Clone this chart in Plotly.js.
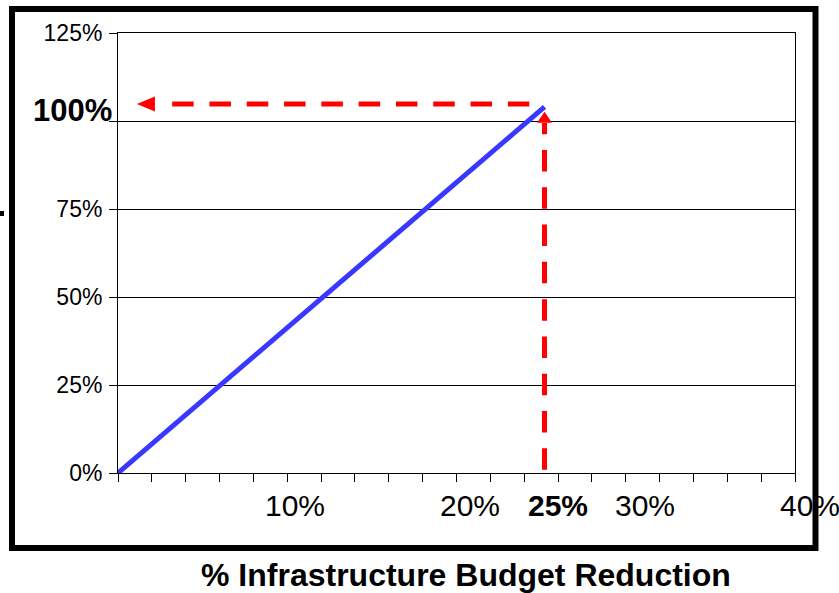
<!DOCTYPE html>
<html>
<head>
<meta charset="utf-8">
<script src="https://cdn.plot.ly/plotly-3.0.1.min.js"></script>
<style>html,body{margin:0;padding:0;background:#fff;}#chart{width:839px;height:593px;}</style>
</head>
<body>
<div id="chart"></div>
<script>
// ---- data ----
const budgetCut = [0, 25.2];          // % infrastructure budget reduction
const impact    = [0, 104];           // % (y)
const readX = 25.2;                   // read-out point x
const readY = 104.8;                  // read-out level y
const hDashX = [3.2, 24.3];           // horizontal dashed read-out line extent
const vDashY = [0.9, 99.4];           // vertical dashed read-out line extent
const leftArrowTipX = 1.12;
const upArrowTipY = 102.6;
const yTickVals = [0, 25, 50, 75, 100, 125];
const yTickText = ['0%', '25%', '50%', '75%', '', '125%'];
const xTickVals = [0,2,4,6,8,10,12,14,16,18,20,22,24,26,28,30,32,34,36,38,40];
const xLabelVals = [10, 20, 25, 30, 40];
const xLabelText = ['10%', '20%', '<b>25%</b>', '30%', '40%'];
const xLabelShift = [8, 13, 17, 19, 15];
const yBoldLabel = '<b>100%</b>';
const xTitle = '<b>% Infrastructure Budget Reduction</b>';

// ---- layout geometry ----
const W = 839, H = 593, L = 118, R = 795, T = 33, B = 473;
const xp = px => (px - L) / (R - L);
const yp = py => (B - py) / (B - T);
const FONT = 'Liberation Sans, Arial, sans-serif';
const RED = '#ff0000';

const traces = [
  {x: budgetCut, y: impact, mode: 'lines', line: {color: 'rgb(56,56,255)', width: 5}, hoverinfo: 'skip'},
  {x: hDashX, y: [readY, readY], mode: 'lines', line: {color: RED, width: 5, dash: '21.5px,15.8px'}, hoverinfo: 'skip'},
  {x: [readX, readX], y: vDashY, mode: 'lines', line: {color: RED, width: 5, dash: '21.5px,15.8px'}, hoverinfo: 'skip'}
];

const annotations = xLabelVals.map((v, i) => ({
  x: v, xref: 'x', y: 0, yref: 'paper', yanchor: 'middle', xanchor: 'center',
  yshift: -(505 - B), xshift: xLabelShift[i], text: xLabelText[i], showarrow: false,
  font: {family: FONT, size: 30, color: '#000'}
}));
annotations.push({
  x: xp(114), xref: 'paper', y: 100, yref: 'y', xanchor: 'right', yanchor: 'middle',
  yshift: 11, text: yBoldLabel, showarrow: false, font: {family: FONT, size: 31, color: '#000'}
});
annotations.push({
  x: xp(466), xref: 'paper', y: yp(575), yref: 'paper', xanchor: 'center', yanchor: 'middle',
  text: xTitle, showarrow: false, font: {family: FONT, size: 32, color: '#000'}
});

const shapes = [
  {type: 'rect', xref: 'paper', yref: 'paper', x0: xp(12), x1: xp(815.5), y0: yp(548), y1: yp(9),
   line: {color: '#000', width: 6}, fillcolor: 'rgba(0,0,0,0)', layer: 'above'},
  {type: 'rect', xref: 'paper', yref: 'paper', x0: xp(0), x1: xp(4), y0: yp(216), y1: yp(211),
   line: {width: 0}, fillcolor: '#000'},
  {type: 'path', xref: 'x', yref: 'y', xsizemode: 'pixel', ysizemode: 'pixel',
   xanchor: leftArrowTipX, yanchor: readY, path: 'M0,0 L18,7.5 L18,-7.5 Z',
   fillcolor: RED, line: {width: 0}},
  {type: 'path', xref: 'x', yref: 'y', xsizemode: 'pixel', ysizemode: 'pixel',
   xanchor: readX, yanchor: upArrowTipY, path: 'M0,0 L-7.5,-11 L7.5,-11 Z',
   fillcolor: RED, line: {width: 0}}
];

const layout = {
  width: W, height: H,
  margin: {l: L, r: W - R, t: T, b: H - B, pad: 0},
  paper_bgcolor: '#fff', plot_bgcolor: '#fff',
  showlegend: false,
  font: {family: FONT, color: '#000'},
  xaxis: {
    range: [0, 40], tickmode: 'array', tickvals: xTickVals, showticklabels: false,
    ticks: 'outside', ticklen: 8, tickwidth: 1, tickcolor: '#000',
    showgrid: false, zeroline: false, showline: true, linecolor: '#000', linewidth: 1, mirror: true,
    fixedrange: true
  },
  yaxis: {
    range: [0, 125], tickmode: 'array', tickvals: yTickVals, ticktext: yTickText,
    tickfont: {family: FONT, size: 23, color: '#000'}, ticklabelstandoff: 2,
    ticks: 'outside', ticklen: 8, tickwidth: 1, tickcolor: '#000',
    showgrid: true, gridcolor: '#000', gridwidth: 1, zeroline: false,
    showline: true, linecolor: '#000', linewidth: 1, mirror: true, fixedrange: true
  },
  annotations: annotations,
  shapes: shapes
};

Plotly.newPlot('chart', traces, layout, {staticPlot: true, displayModeBar: false});
</script>
</body>
</html>
